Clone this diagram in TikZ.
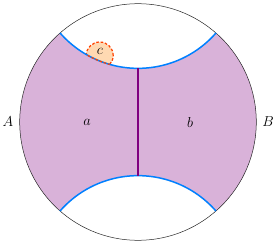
\documentclass[tikz,border=0pt]{standalone}
\begin{document}
\begin{tikzpicture}[x=1pt,y=1pt,
  geo/.style={draw=blue!50!cyan,line width=1.5pt},
  rim/.style={draw=black!85,line width=0.5pt},
  cut/.style={draw=violet,line width=1.3pt},
  reg/.style={fill=violet!30},
  creg/.style={fill=orange!30},
  cdash/.style={draw=orange!50!red,line width=1.2pt,dash pattern=on 2.6pt off 1.8pt},
  lab/.style={inner sep=1pt,font=\fontsize{14}{16}\selectfont}]
\useasboundingbox (-138,-122) rectangle (138,122);
\def\R{118.3}
\def\d{157.2}
\def\r{103.6}
\coordinate (O) at (0,0);
\coordinate (P1) at (131.2:\R);
\coordinate (P3) at (-48.8:\R);
\coordinate (T) at (0,\d-\r);
\coordinate (Bt) at (0,-\d+\r);
\coordinate (Ctop) at (0,\d);
\coordinate (Cbot) at (0,-\d);
\coordinate (Cc) at (-38.3,66.5);
% purple region
\path[reg] (P1) arc[start angle=221.2,end angle=318.8,radius=\r]
  arc[start angle=48.8,end angle=-48.8,radius=\R]
  arc[start angle=41.2,end angle=138.8,radius=\r]
  arc[start angle=228.8,end angle=131.2,radius=\R] -- cycle;
% disk boundary
\draw[rim] (O) circle[radius=\R];
% region c
\begin{scope}
  \clip (Ctop) circle[radius=\r];
  \path[creg] (Cc) circle[radius=13.5];
  \draw[cdash] (Cc) circle[radius=13.5];
\end{scope}
% geodesics
\draw[geo] (P1) arc[start angle=221.2,end angle=318.8,radius=\r];
\draw[geo] (P3) arc[start angle=41.2,end angle=138.8,radius=\r];
% dashed part along geodesic
\begin{scope}
  \clip (Cc) circle[radius=13.5];
  \draw[cdash] (Ctop) circle[radius=\r];
\end{scope}
% cut
\draw[cut] (T) -- (Bt);
% labels
\node[lab] (A) at (-130,0) {$A$};
\node[lab] (B) at (130,0) {$B$};
\node[lab] (a) at (-51,0) {$a$};
\node[lab] (b) at (52,0) {$b$};
\node[lab] (c) at (-38,70.5) {$c$};
\end{tikzpicture}
\end{document}
